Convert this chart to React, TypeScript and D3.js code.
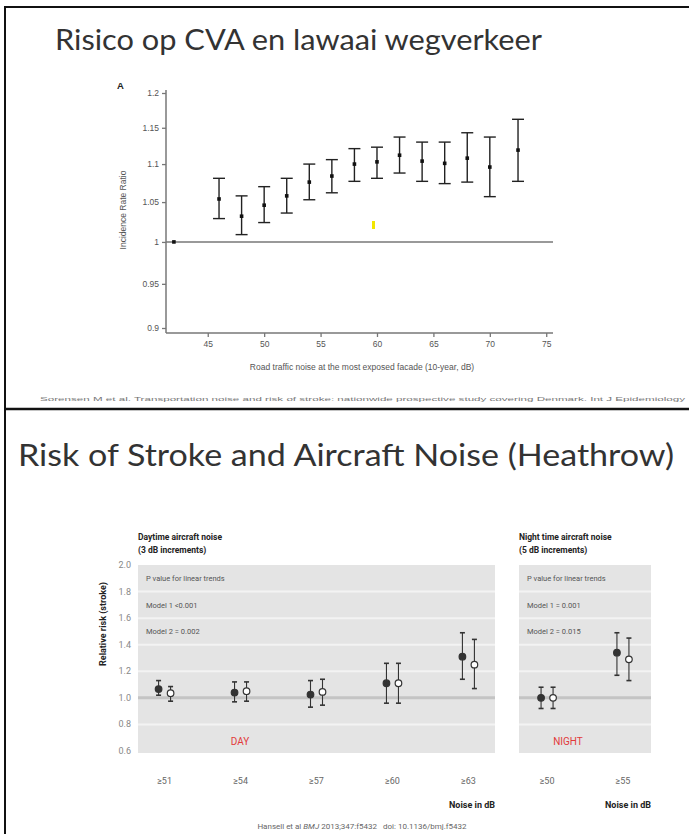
import { useEffect, useMemo, useRef } from "react";
import * as d3 from "d3";

// top slide: Sørensen, road traffic noise
const roadNoise = [46, 48, 50, 52, 54, 56, 58, 60, 62, 64, 66, 68, 70, 72.5];
const roadIRR = [1.054, 1.032, 1.046, 1.058, 1.076, 1.084, 1.1, 1.103, 1.112, 1.104, 1.101, 1.108, 1.096, 1.119];
const roadLower = [1.029, 1.009, 1.024, 1.036, 1.053, 1.062, 1.077, 1.081, 1.088, 1.077, 1.074, 1.076, 1.057, 1.077];
const roadUpper = [1.081, 1.058, 1.07, 1.081, 1.1, 1.106, 1.121, 1.123, 1.137, 1.13, 1.13, 1.143, 1.137, 1.162];
const refNoise = 42;
const roadXTicks = [45, 50, 55, 60, 65, 70, 75];
const roadYTicks = [0.9, 0.95, 1, 1.05, 1.1, 1.15, 1.2];
const roadYLabels = ["0.9", "0.95", "1", "1.05", "1.1", "1.15", "1.2"];

// bottom slide: Hansell, Heathrow aircraft noise
const dayCats = ["≥51", "≥54", "≥57", "≥60", "≥63"];
const dayM1 = [1.066, 1.04, 1.025, 1.11, 1.31];
const dayM1Lo = [1.02, 0.97, 0.93, 0.96, 1.14];
const dayM1Hi = [1.13, 1.12, 1.13, 1.26, 1.49];
const dayM2 = [1.035, 1.05, 1.045, 1.11, 1.25];
const dayM2Lo = [0.975, 0.975, 0.945, 0.96, 1.07];
const dayM2Hi = [1.085, 1.12, 1.14, 1.26, 1.44];
const nightCats = ["≥50", "≥55"];
const nightM1 = [1.0, 1.34];
const nightM1Lo = [0.92, 1.17];
const nightM1Hi = [1.08, 1.49];
const nightM2 = [1.0, 1.29];
const nightM2Lo = [0.92, 1.13];
const nightM2Hi = [1.08, 1.45];
const rrTicks = [0.6, 0.8, 1.0, 1.2, 1.4, 1.6, 1.8, 2.0];
const dayNotes = ["P value for linear trends", "Model 1 <0.001", "Model 2 = 0.002"];
const nightNotes = ["P value for linear trends", "Model 1 = 0.001", "Model 2 = 0.015"];

const W = 689;
const H = 834;
const DIV_Y = 409;

const TitleFont = "Lato, 'Open Sans', sans-serif";
const ChartFont = "'Liberation Sans', Arial, sans-serif";
const BmjFont = "Roboto, 'Liberation Sans', sans-serif";

const RoadChart = () => {
  const axesRef = useRef(null);
  const xScale = useMemo(() => d3.scaleLinear().domain([41.3, 75.6]).range([166, 553]), []);
  const yScale = useMemo(() => d3.scaleLog().domain([0.9, 1.2]).range([328, 93]), []);
  const axisY = 333;

  useEffect(() => {
    const g = d3.select(axesRef.current);
    g.selectAll("*").remove();
    const yAxis = d3
      .axisLeft(yScale)
      .tickValues(roadYTicks)
      .tickFormat((d, i) => roadYLabels[i])
      .tickSize(4)
      .tickPadding(3);
    g.append("g").attr("transform", "translate(166,0)").call(yAxis);
    const xAxis = d3.axisBottom(xScale).tickValues(roadXTicks).tickSize(4).tickPadding(4);
    g.append("g").attr("transform", `translate(0,${axisY})`).call(xAxis);
    g.selectAll(".domain").remove();
    g.selectAll(".tick line").attr("stroke", "#777").attr("stroke-width", 1.3);
    g.selectAll(".tick text").attr("fill", "#555").style("font-size", "8.5px").style("font-family", ChartFont);
  }, [xScale, yScale]);

  return (
    <g>
      <line x1={166} x2={166} y1={90} y2={axisY} stroke="#777" strokeWidth={1.5} />
      <line x1={166} x2={553} y1={axisY} y2={axisY} stroke="#777" strokeWidth={1.5} />
      <line x1={166} x2={553} y1={yScale(1)} y2={yScale(1)} stroke="#777" strokeWidth={1.5} />
      <g ref={axesRef} />
      {roadNoise.map((n, i) => {
        const x = xScale(n);
        return (
          <g key={i} stroke="#222" strokeWidth={1.4}>
            <line x1={x} x2={x} y1={yScale(roadLower[i])} y2={yScale(roadUpper[i])} />
            <line x1={x - 6} x2={x + 6} y1={yScale(roadLower[i])} y2={yScale(roadLower[i])} />
            <line x1={x - 6} x2={x + 6} y1={yScale(roadUpper[i])} y2={yScale(roadUpper[i])} />
            <rect x={x - 1.8} y={yScale(roadIRR[i]) - 1.8} width={3.6} height={3.6} fill="#111" stroke="none" />
          </g>
        );
      })}
      <rect x={xScale(refNoise) - 1.8} y={yScale(1) - 1.8} width={3.6} height={3.6} fill="#111" />
      <text x={117} y={89} fontSize={9.5} fontWeight="bold" fontFamily={ChartFont} fill="#222">A</text>
      <text
        transform={`translate(126,210) rotate(-90)`}
        textAnchor="middle"
        fontSize={8.5}
        fontFamily={ChartFont}
        fill="#555"
      >
        Incidence Rate Ratio
      </text>
      <text x={362} y={370} textAnchor="middle" fontSize={8.5} fontFamily={ChartFont} fill="#555">
        Road traffic noise at the most exposed facade (10-year, dB)
      </text>
      <rect x={372} y={221} width={3} height={8} fill="#f2e600" />
    </g>
  );
};

type PanelProps = {
  cats: string[];
  x0: number;
  x1: number;
  m1: number[];
  m1Lo: number[];
  m1Hi: number[];
  m2: number[];
  m2Lo: number[];
  m2Hi: number[];
  notes: string[];
  heading: string[];
  tag: string;
  tagX: number;
  padding: number;
};

const yRR = d3.scaleLinear().domain([0.6, 2.0]).range([751, 565]);

const ErrorMark = ({ x, v, lo, hi, open }: { x: number; v: number; lo: number; hi: number; open: boolean }) => (
  <g stroke="#333" strokeWidth={1.1}>
    <line x1={x} x2={x} y1={yRR(lo)} y2={yRR(hi)} />
    <line x1={x - 2.5} x2={x + 2.5} y1={yRR(lo)} y2={yRR(lo)} strokeWidth={1.6} />
    <line x1={x - 2.5} x2={x + 2.5} y1={yRR(hi)} y2={yRR(hi)} strokeWidth={1.6} />
    <circle cx={x} cy={yRR(v)} r={3.3} fill={open ? "#fff" : "#333"} strokeWidth={1.2} />
  </g>
);

const HeathrowPanel = (p: PanelProps) => {
  const xScale = d3.scalePoint().domain(p.cats).range([p.x0, p.x1]).padding(p.padding);
  const top = yRR(2.0);
  const bottom = yRR(0.6) + 2;
  return (
    <g>
      <rect x={p.x0} y={top} width={p.x1 - p.x0} height={bottom - top} fill="#e4e4e4" />
      {rrTicks
        .filter((t) => t > 0.6 && t < 2.0 && t !== 1.0)
        .map((t) => (
          <line key={t} x1={p.x0} x2={p.x1} y1={yRR(t)} y2={yRR(t)} stroke="#f3f3f3" strokeWidth={2} />
        ))}
      <line x1={p.x0} x2={p.x1} y1={yRR(1.0)} y2={yRR(1.0)} stroke="#c4c4c4" strokeWidth={3} />
      {p.notes.map((n, i) => (
        <text
          key={n}
          x={p.x0 + 8}
          y={(yRR(2.0 - 0.2 * i) + yRR(1.8 - 0.2 * i)) / 2 + 3}
          fontSize={7.5}
          fontFamily={BmjFont}
          fill="#555"
        >
          {n}
        </text>
      ))}
      {p.heading.map((h, i) => (
        <text key={h} x={p.x0} y={540 + i * 13} fontSize={8.5} fontWeight="bold" fontFamily={BmjFont} fill="#222">
          {h}
        </text>
      ))}
      {p.cats.map((c, i) => {
        const x = xScale(c)!;
        return (
          <g key={c}>
            <ErrorMark x={x - 6} v={p.m1[i]} lo={p.m1Lo[i]} hi={p.m1Hi[i]} open={false} />
            <ErrorMark x={x + 6} v={p.m2[i]} lo={p.m2Lo[i]} hi={p.m2Hi[i]} open={true} />
            <text x={x} y={784} textAnchor="middle" fontSize={9} fontFamily={BmjFont} fill="#666">
              {c}
            </text>
          </g>
        );
      })}
      <text x={p.tagX} y={745} textAnchor="middle" fontSize={10} fontFamily={BmjFont} fill="#e23a3a">
        {p.tag}
      </text>
      <text x={p.x1} y={808} textAnchor="end" fontSize={9} fontWeight="bold" fontFamily={BmjFont} fill="#222">
        Noise in dB
      </text>
    </g>
  );
};

export default function App() {
  return (
    <svg width={W} height={H} style={{ position: "absolute", left: 0, top: 0, background: "#fff" }}>
      <rect width={W} height={H} fill="#fff" />
      {/* slide frames */}
      <line x1={5} x2={5} y1={6} y2={H} stroke="#111" strokeWidth={2} />
      <line x1={4} x2={W} y1={7} y2={7} stroke="#111" strokeWidth={2} />
      <line x1={4} x2={W} y1={DIV_Y} y2={DIV_Y} stroke="#111" strokeWidth={2.5} />

      <text x={55} y={50} fontSize={29} fontFamily={TitleFont} fill="#333" textLength={487} lengthAdjust="spacingAndGlyphs">
        Risico op CVA en lawaai wegverkeer
      </text>
      <RoadChart />
      <text x={40} y={401} fontSize={5.5} fontFamily={ChartFont} fill="#777" textLength={645} lengthAdjust="spacingAndGlyphs">
        Sorensen M et al. Transportation noise and risk of stroke: nationwide prospective study covering Denmark. Int J Epidemiology
      </text>

      <text x={18} y={466} fontSize={30} fontFamily={TitleFont} fill="#333" textLength={656} lengthAdjust="spacingAndGlyphs">
        Risk of Stroke and Aircraft Noise (Heathrow)
      </text>
      <text
        transform="translate(106,624) rotate(-90)"
        textAnchor="middle"
        fontSize={9}
        fontWeight="bold"
        fontFamily={BmjFont}
        fill="#222"
      >
        Relative risk (stroke)
      </text>
      {rrTicks.map((t) => (
        <text key={t} x={131} y={yRR(t) + 3} textAnchor="end" fontSize={9} fontFamily={BmjFont} fill="#888">
          {t.toFixed(1)}
        </text>
      ))}
      <HeathrowPanel
        cats={dayCats}
        x0={138}
        x1={495}
        m1={dayM1}
        m1Lo={dayM1Lo}
        m1Hi={dayM1Hi}
        m2={dayM2}
        m2Lo={dayM2Lo}
        m2Hi={dayM2Hi}
        notes={dayNotes}
        heading={["Daytime aircraft noise", "(3 dB increments)"]}
        tag="DAY"
        tagX={240}
        padding={0.35}
      />
      <HeathrowPanel
        cats={nightCats}
        x0={519}
        x1={651}
        m1={nightM1}
        m1Lo={nightM1Lo}
        m1Hi={nightM1Hi}
        m2={nightM2}
        m2Lo={nightM2Lo}
        m2Hi={nightM2Hi}
        notes={nightNotes}
        heading={["Night time aircraft noise", "(5 dB increments)"]}
        tag="NIGHT"
        tagX={568}
        padding={0.37}
      />
      <text x={362} y={829} textAnchor="middle" fontSize={8} fontFamily={BmjFont} fill="#666">
        Hansell et al <tspan fontStyle="italic">BMJ</tspan> 2013;347:f5432{"\u00a0\u00a0\u00a0"}doi: 10.1136/bmj.f5432
      </text>
    </svg>
  );
}
